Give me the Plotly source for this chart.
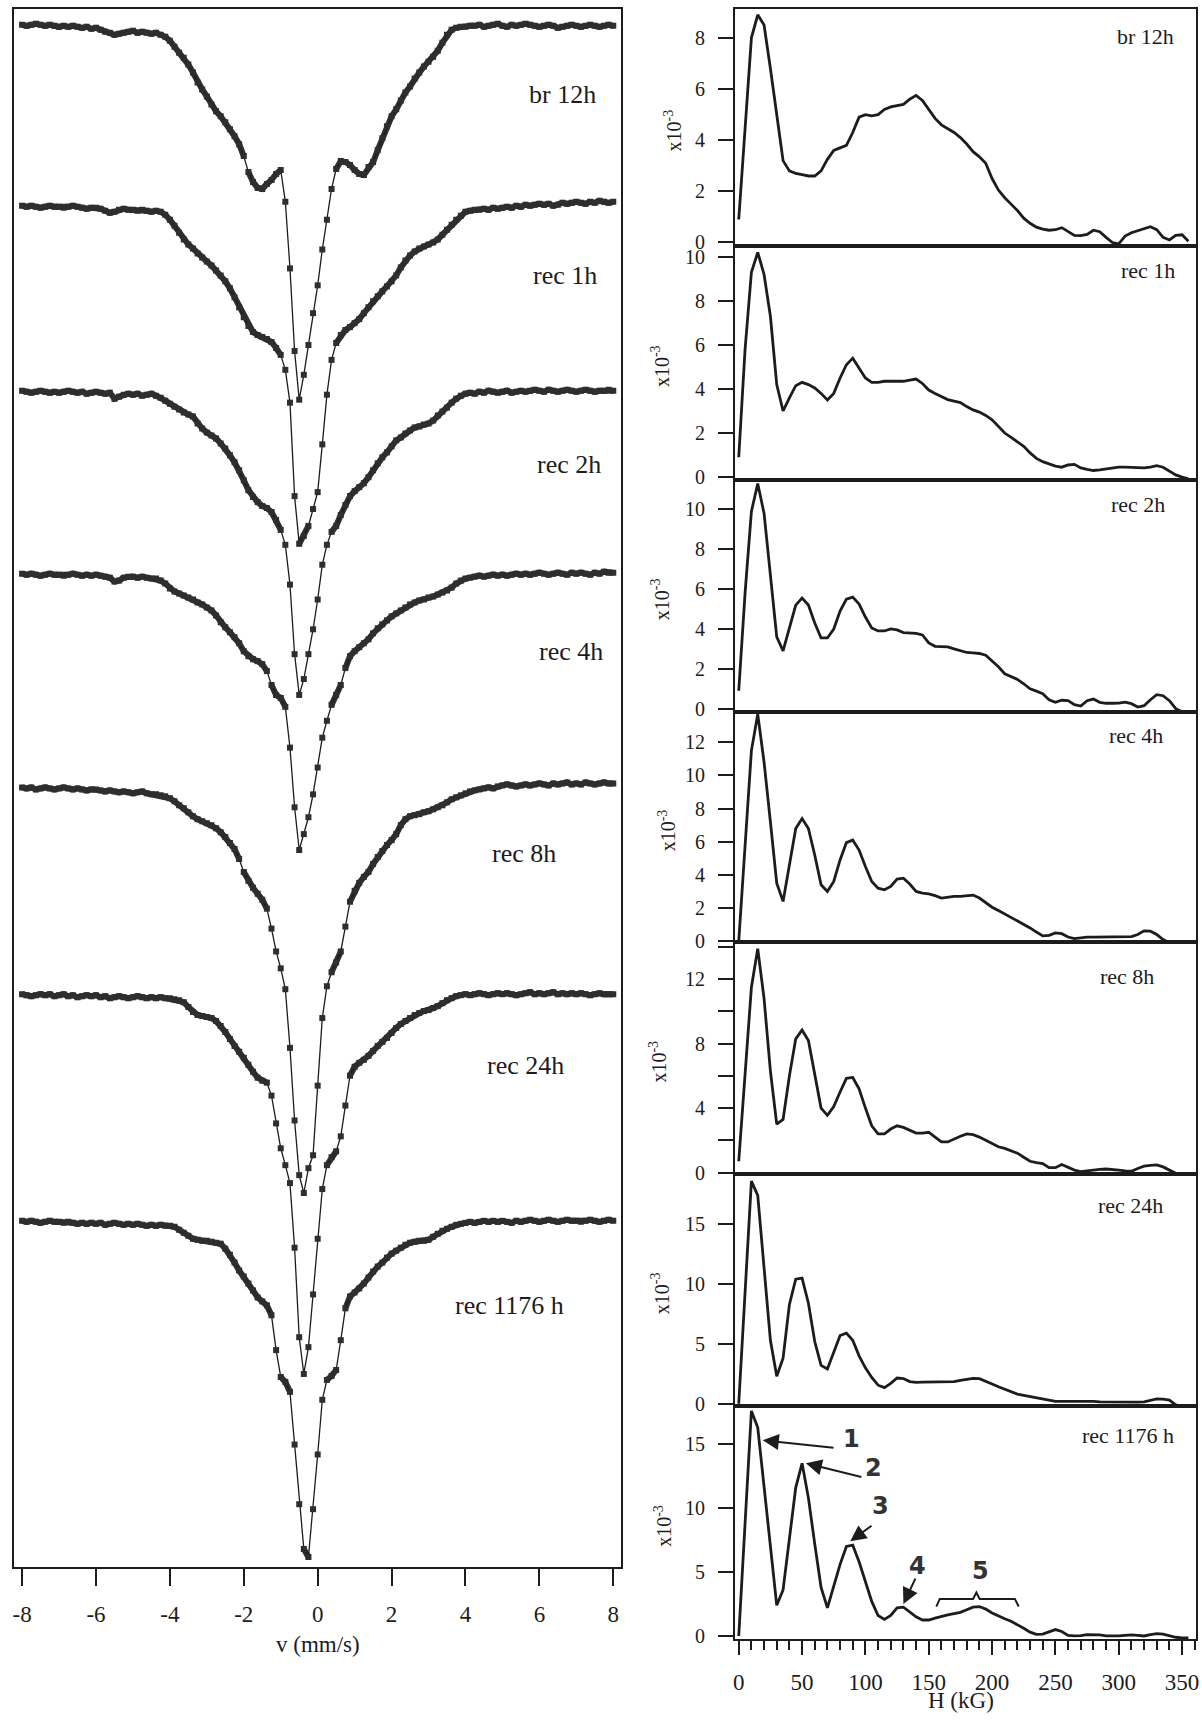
import plotly.graph_objects as go

# ---------------------------------------------------------------
# Left: Mossbauer spectra, velocity channels 0.125 mm/s apart
# absorption values are read off the picture (arbitrary units, 0 = baseline)
# ---------------------------------------------------------------
V = [round(-8 + 0.125 * i, 3) for i in range(129)]

S_BR12 = [
    0, 1, 0, -1, 0, 1, 0, 1,
    2, 1, 2, 1, 2, 3, 2, 4,
    3, 5, 7, 8, 10, 9, 8, 7,
    6, 8, 7, 8, 9, 8, 10, 12,
    16, 22, 28, 33, 40, 48, 58, 65,
    72, 80, 87, 92, 98, 105, 112, 120,
    132, 148, 158, 164, 165, 160, 156, 150,
    146, 178, 245, 328, 377, 352, 322, 290,
    262, 226, 196, 165, 145, 137, 138, 141,
    146, 150, 151, 143, 138, 126, 114, 102,
    92, 85, 76, 68, 62, 54, 48, 42,
    37, 32, 26, 18, 10, 5, 3, 2,
    2, 1, 1, 0, 2, 1, 0, -1,
    1, 2, 0, 1, 0, -1, 0, 1,
    2, 1, 0, 1, 3, 2, 1, 0,
    1, 2, 1, 0, 1, 2, 1, 0,
    1]

S_REC1 = [
    0, 1, 0, 1, 2, 1, 0, 1,
    1, 2, 1, 0, 1, 2, 3, 2,
    2, 3, 5, 7, 6, 4, 3, 4,
    4, 5, 4, 5, 6, 5, 6, 9,
    14, 20, 27, 34, 39, 43, 48, 52,
    56, 60, 65, 70, 76, 83, 92, 102,
    112, 121, 127, 130, 132, 134, 137, 143,
    150, 165, 198, 292, 340, 332, 322, 305,
    288, 240, 190, 155, 138, 130, 125, 122,
    118, 114, 108, 102, 96, 91, 86, 81,
    76, 70, 62, 55, 50, 46, 43, 41,
    39, 37, 34, 29, 24, 19, 14, 10,
    6, 5, 4, 4, 3, 4, 2, 3,
    2, 1, 2, 0, 1, -1, 0, -1,
    -2, -1, -2, 0, -1, -3, -2, -3,
    -4, -3, -2, -4, -3, -5, -4, -3,
    -4]

S_REC2 = [
    0, 1, 2, 1, 0, 1, 2, 1,
    2, 1, 0, 1, 2, 1, 3, 2,
    1, 2, 3, 2, 8, 6, 4, 3,
    4, 3, 5, 4, 3, 5, 7, 10,
    13, 16, 19, 22, 24, 26, 33, 38,
    42, 45, 48, 53, 58, 65, 72, 80,
    90, 100, 107, 112, 116, 118, 122, 130,
    140, 155, 195, 265, 306, 290, 265, 240,
    210, 175, 155, 142, 136, 125, 115, 106,
    101, 97, 93, 87, 80, 73, 67, 62,
    56, 50, 47, 43, 40, 37, 36, 34,
    33, 30, 25, 21, 17, 12, 8, 5,
    3, 2, 3, 1, 2, 0, 1, 2,
    1, 0, 2, 1, 0, 1, 0, -1,
    0, 1, -1, 0, 1, 0, -1, 0,
    1, 0, -1, 0, 1, 0, 0, -1,
    0]

S_REC4 = [
    0, 1, 0, 1, 2, 1, 0, 1,
    1, 2, 1, 0, 1, 2, 1, 2,
    1, 2, 3, 4, 8, 7, 4, 3,
    3, 4, 3, 4, 5, 5, 7, 10,
    15, 18, 20, 22, 24, 26, 29, 31,
    34, 37, 42, 49, 54, 59, 64, 70,
    78, 83, 86, 88, 91, 98, 112, 122,
    125, 134, 175, 235, 278, 262, 245, 222,
    195, 165, 148, 132, 122, 112, 95, 83,
    78, 74, 70, 66, 60, 55, 51, 47,
    43, 40, 37, 34, 31, 29, 27, 26,
    24, 23, 21, 19, 17, 14, 10, 7,
    5, 4, 3, 2, 3, 2, 1, 2,
    1, 2, 1, 0, 1, 0, 1, 0,
    -1, 0, 1, 0, -1, 0, 1, -1,
    0, -1, 0, 1, -1, 0, -2, -1,
    -1]

S_REC8 = [
    0, 1, 0, 2, 1, 0, 1, 2,
    1, 0, 1, 2, 1, 2, 3, 2,
    2, 3, 4, 3, 4, 5, 4, 5,
    6, 5, 4, 6, 7, 7, 8, 9,
    11, 14, 18, 21, 25, 29, 32, 34,
    36, 38, 41, 45, 50, 56, 62, 72,
    85, 94, 101, 107, 113, 122, 142, 165,
    182, 203, 262, 335, 390, 408, 383, 370,
    300, 232, 200, 186, 176, 165, 140, 115,
    104, 96, 90, 85, 77, 70, 64, 58,
    53, 47, 38, 32, 29, 28, 27, 25,
    24, 22, 20, 18, 15, 12, 10, 8,
    6, 4, 3, 2, 1, 0, 1, -1,
    -2, -3, -2, -1, -2, -3, -2, -3,
    -4, -3, -2, -4, -3, -4, -5, -3,
    -4, -3, -5, -4, -3, -4, -5, -4,
    -4]

S_REC24 = [
    0, 1, 2, 1, 0, 1, 0, 2,
    1, 0, 2, 1, 3, 2, 1, 2,
    1, 3, 2, 4, 3, 2, 3, 4,
    3, 2, 3, 4, 3, 4, 3, 4,
    4, 5, 6, 8, 13, 18, 21, 22,
    23, 24, 27, 32, 38, 45, 52, 58,
    64, 71, 78, 84, 87, 89, 102, 130,
    155, 172, 190, 255, 345, 382, 355, 302,
    246, 196, 172, 164, 158, 143, 112, 82,
    73, 69, 66, 62, 57, 52, 48, 44,
    39, 34, 30, 27, 24, 21, 19, 17,
    16, 14, 12, 9, 6, 4, 2, 1,
    0, 1, 0, -1, 0, 1, 0, -1,
    0, -1, 0, 1, 0, -1, -2, 0,
    -1, 0, -1, -2, 0, -1, 0, -1,
    0, -1, 0, 1, 0, -1, 0, 0,
    0]

S_REC1176 = [
    0, 1, 0, 1, 2, 1, 0, 1,
    1, 2, 1, 2, 3, 2, 3, 2,
    3, 2, 4, 3, 2, 3, 4, 3,
    4, 3, 4, 5, 4, 5, 4, 5,
    5, 6, 9, 12, 15, 18, 19, 20,
    20, 21, 22, 23, 28, 34, 42, 50,
    56, 63, 70, 77, 81, 85, 95, 130,
    157, 162, 172, 225, 285, 330, 338, 290,
    235, 180, 160, 156, 150, 120, 88, 76,
    72, 68, 63, 57, 51, 46, 42, 37,
    33, 30, 27, 24, 22, 21, 20, 20,
    19, 16, 13, 10, 8, 6, 4, 3,
    2, 1, 2, 1, 0, 1, 0, 1,
    0, 1, 2, 0, 1, 0, -1, 0,
    1, 0, -1, 0, 1, 0, -1, 0,
    0, 1, 0, -1, 0, 1, 0, -1,
    0]

SPECTRA = [S_BR12, S_REC1, S_REC2, S_REC4, S_REC8, S_REC24, S_REC1176]
LABELS = ["br 12h", "rec 1h", "rec 2h", "rec 4h", "rec 8h", "rec 24h", "rec 1176 h"]

# ---------------------------------------------------------------
# Right: hyperfine field distributions P(H), x10^-3, every 5 kG
# ---------------------------------------------------------------
H = list(range(0, 360, 5))

P_BR12 = [
    0.9, 4.5, 8.0, 8.9, 8.5, 6.8, 5.0, 3.2, 2.8, 2.7,
    2.65, 2.6, 2.6, 2.8, 3.25, 3.6, 3.7, 3.8, 4.3, 4.9,
    5.0, 4.95, 5.0, 5.2, 5.3, 5.35, 5.4, 5.6, 5.75, 5.55,
    5.2, 4.85, 4.6, 4.45, 4.3, 4.1, 3.85, 3.55, 3.35, 3.1,
    2.5, 2.05, 1.75, 1.5, 1.25, 0.95, 0.75, 0.6, 0.52, 0.48,
    0.5, 0.58, 0.42, 0.28, 0.27, 0.32, 0.48, 0.42, 0.2, 0.0,
    -0.05, 0.25, 0.38, 0.47, 0.55, 0.62, 0.5, 0.2, 0.1, 0.28,
    0.3, 0.05]

P_REC1 = [
    0.9, 5.8, 9.3, 10.2, 9.2, 7.3, 4.2, 3.0, 3.6, 4.15,
    4.3, 4.2, 4.05, 3.8, 3.5, 3.8, 4.5, 5.1, 5.4, 4.95,
    4.5, 4.3, 4.3, 4.35, 4.35, 4.35, 4.35, 4.4, 4.45, 4.25,
    3.95, 3.8, 3.65, 3.52, 3.45, 3.38, 3.2, 3.05, 2.95, 2.8,
    2.6, 2.3, 2.0, 1.8, 1.6, 1.4, 1.1, 0.85, 0.7, 0.6,
    0.5, 0.45, 0.55, 0.58, 0.42, 0.35, 0.3, 0.33, 0.38, 0.43,
    0.45, 0.45, 0.43, 0.42, 0.42, 0.45, 0.52, 0.45, 0.28, 0.1,
    0.0, -0.08]

P_REC2 = [
    0.9, 5.8, 9.9, 11.3, 9.8, 6.8, 3.6, 2.9, 4.0, 5.2,
    5.55, 5.2, 4.3, 3.55, 3.55, 4.0, 4.9, 5.5, 5.6, 5.25,
    4.6, 4.05, 3.9, 3.9, 4.0, 3.95, 3.82, 3.8, 3.78, 3.7,
    3.3, 3.13, 3.12, 3.1, 3.0, 2.9, 2.82, 2.8, 2.77, 2.68,
    2.4, 2.1, 1.75, 1.6, 1.47, 1.25, 1.0, 0.88, 0.75, 0.45,
    0.32, 0.42, 0.4, 0.2, 0.13, 0.4, 0.48, 0.32, 0.27, 0.27,
    0.28, 0.33, 0.25, 0.08, 0.15, 0.45, 0.7, 0.65, 0.4, 0.0,
    -0.15, -0.2]

P_REC4 = [
    0.0, 5.5, 11.5, 13.7, 10.8, 7.2, 3.5, 2.4, 4.5, 6.8,
    7.4, 6.8, 5.2, 3.4, 3.0, 3.6, 4.9, 5.95, 6.1, 5.5,
    4.5, 3.6, 3.2, 3.1, 3.3, 3.75, 3.8, 3.45, 3.0, 2.9,
    2.85, 2.75, 2.6, 2.65, 2.7, 2.7, 2.75, 2.78, 2.6, 2.3,
    2.05, 1.85, 1.65, 1.45, 1.25, 1.05, 0.8, 0.55, 0.32, 0.35,
    0.5, 0.45, 0.25, 0.15, 0.2, 0.24, 0.24, 0.24, 0.24, 0.24,
    0.25, 0.26, 0.28, 0.4, 0.62, 0.6, 0.4, 0.1, -0.1, -0.1,
    -0.1, -0.1]

P_REC8 = [
    0.7, 6.0, 11.5, 13.9, 10.8, 6.3, 3.0, 3.3, 6.0, 8.3,
    8.85, 8.2, 6.0, 4.0, 3.55, 4.1, 5.0, 5.85, 5.9, 5.2,
    4.0, 2.9, 2.4, 2.4, 2.7, 2.9, 2.8, 2.6, 2.45, 2.45,
    2.5, 2.2, 1.9, 1.9, 2.1, 2.25, 2.4, 2.35, 2.2, 2.0,
    1.8, 1.6, 1.5, 1.35, 1.2, 0.95, 0.7, 0.62, 0.55, 0.3,
    0.3, 0.5, 0.35, 0.15, 0.06, 0.12, 0.17, 0.2, 0.22, 0.2,
    0.15, 0.1, 0.08, 0.25, 0.4, 0.45, 0.47, 0.35, 0.15, -0.05,
    -0.1, -0.1]

P_REC24 = [
    0.0, 9.5, 18.6, 17.4, 11.5, 5.3, 2.3, 3.8, 8.3, 10.4,
    10.5, 8.4, 5.2, 3.2, 2.9, 4.3, 5.7, 5.9, 5.3, 4.0,
    3.0, 2.2, 1.55, 1.35, 1.7, 2.15, 2.1, 1.85, 1.78, 1.8,
    1.8, 1.8, 1.82, 1.8, 1.85, 1.95, 2.05, 2.12, 2.1, 1.9,
    1.65, 1.42, 1.2, 0.98, 0.8, 0.7, 0.6, 0.5, 0.38, 0.25,
    0.2, 0.2, 0.2, 0.22, 0.24, 0.26, 0.2, 0.15, 0.14, 0.12,
    0.11, 0.11, 0.12, 0.13, 0.15, 0.3, 0.4, 0.38, 0.3, -0.1,
    -0.2, -0.2]

P_REC1176 = [
    0.0, 8.5, 17.6, 16.3, 11.7, 7.2, 2.4, 3.6, 7.6, 11.6,
    13.5, 10.8, 7.2, 3.8, 2.2, 4.0, 5.6, 7.0, 7.1, 5.8,
    4.2, 2.7, 1.6, 1.3, 1.6, 2.2, 2.25, 1.9, 1.5, 1.25,
    1.25, 1.4, 1.55, 1.65, 1.75, 1.85, 2.05, 2.25, 2.3, 2.1,
    1.8, 1.55, 1.35, 1.15, 0.9, 0.6, 0.3, 0.12, 0.15, 0.35,
    0.5, 0.35, 0.05, 0.0, 0.02, 0.1, 0.1, 0.08, 0.0, -0.02,
    0.0, 0.05, 0.08, 0.05, 0.0, 0.1, 0.18, 0.15, 0.0, -0.1,
    -0.15, -0.15]

DISTS = [P_BR12, P_REC1, P_REC2, P_REC4, P_REC8, P_REC24, P_REC1176]

# ---------------------------------------------------------------
# layout (reference pixels -> paper coords)
# ---------------------------------------------------------------
FIG_W, FIG_H = 1202, 1721
INK = "#1c1c1c"
DOTS = "#2e2e2e"
SERIF = "Liberation Serif, Times New Roman, serif"


def fx(p):
    return min(1.0, max(0.0, p / FIG_W))


def fy(p):
    return min(1.0, max(0.0, 1 - p / FIG_H))


OFFSETS = [0, 182, 368, 552, 767, 975, 1203]          # stacking of the spectra
LEFT_LABEL_POS = [(563, 95), (565, 277), (569, 467), (571, 655),
                  (524, 858), (526, 1072), (510, 1313)]

ROW_TOP = [9, 247, 483, 716, 948, 1181, 1414]
ROW_BOT = [247, 483, 716, 948, 1181, 1414, 1649]
Y_RANGES = [(-0.12, 9.13), (-0.14, 10.51), (-0.16, 11.47), (-0.08, 13.84),
            (-0.1, 14.28), (-0.17, 19.18), (-0.27, 18.0)]
Y_TICKS = [[0, 2, 4, 6, 8], [0, 2, 4, 6, 8, 10], [0, 2, 4, 6, 8, 10],
           [0, 2, 4, 6, 8, 10, 12], [0, 2, 4, 6, 8, 10, 12, 14],
           [0, 5, 10, 15], [0, 5, 10, 15]]
RIGHT_LABEL_POS = [(1178, 37), (1179, 272), (1169, 507), (1167, 740),
                   (1158, 982), (1167, 1213), (1178, 1444)]
YTITLE_X = [674, 661, 661, 668, 659, 661, 663]

fig = go.Figure()

for spec, off in zip(SPECTRA, OFFSETS):
    ys = [-(off + d) for d in spec]
    # dense data points merge into a thick band where the spectrum is flat;
    # on the steep flanks they separate, so the band skips those steps
    bx, by = [V[0]], [ys[0]]
    for i in range(1, len(V)):
        if abs(spec[i] - spec[i - 1]) > 12:
            bx.append(None)
            by.append(None)
        bx.append(V[i])
        by.append(ys[i])
    fig.add_trace(go.Scatter(
        x=bx, y=by, mode="lines", line=dict(color=DOTS, width=6),
        connectgaps=False, xaxis="x", yaxis="y", showlegend=False,
        hoverinfo="skip"))
    # data points with the fitted line through them
    fig.add_trace(go.Scatter(
        x=V, y=ys, mode="lines+markers",
        marker=dict(symbol="square", size=6, color=DOTS),
        line=dict(color=INK, width=1.3),
        xaxis="x", yaxis="y", showlegend=False, hoverinfo="skip"))

# distributions
for k, p in enumerate(DISTS):
    n = k + 2
    fig.add_trace(go.Scatter(
        x=H, y=p, mode="lines", line=dict(color=INK, width=2.8),
        xaxis=f"x{n}", yaxis=f"y{n}", showlegend=False, hoverinfo="skip"))

frame = dict(showline=True, linewidth=2, linecolor=INK, mirror=True,
             showgrid=False, zeroline=False)

layout = dict(
    width=FIG_W, height=FIG_H, margin=dict(l=0, r=0, t=0, b=0),
    paper_bgcolor="white", plot_bgcolor="white", showlegend=False,
    hovermode=False, font=dict(family=SERIF, color=INK),
)

layout["xaxis"] = dict(
    frame, domain=[fx(12), fx(622)], range=[-8.22, 8.22], anchor="y",
    tickvals=list(range(-8, 9, 2)), ticktext=[str(t) for t in range(-8, 9, 2)],
    ticks="outside", ticklen=17, tickwidth=2, tickcolor=INK,
    ticklabelstandoff=9, tickfont=dict(family=SERIF, size=23, color=INK))
layout["yaxis"] = dict(
    frame, domain=[fy(1576), fy(9)], range=[-1551, 16], anchor="x",
    showticklabels=False, ticks="")

for k in range(7):
    n = k + 2
    xa = dict(frame, domain=[fx(736), fx(1199)], range=[-3, 361], anchor=f"y{n}")
    if n == 8:
        xa.update(ticks="outside", tickvals=list(range(0, 351, 50)),
                  ticklen=14, tickwidth=2, tickcolor=INK, ticklabelstandoff=7,
                  ticklabeloverflow="allow",
                  tickfont=dict(family=SERIF, size=23, color=INK),
                  minor=dict(ticks="outside", dtick=10, tick0=0, ticklen=9,
                             tickwidth=2, tickcolor=INK))
    else:
        xa.update(showticklabels=False, ticks="")
    layout[f"xaxis{n}"] = xa
    tv = Y_TICKS[k]
    tt = [str(t) if (k != 4 or t % 4 == 0) else "" for t in tv]
    layout[f"yaxis{n}"] = dict(
        frame, domain=[fy(ROW_BOT[k]), fy(ROW_TOP[k])], range=list(Y_RANGES[k]),
        anchor=f"x{n}", tickvals=tv, ticktext=tt, ticks="outside", ticklen=15,
        tickwidth=2, tickcolor=INK, ticklabelstandoff=9,
        tickfont=dict(family=SERIF, size=20, color=INK))


def label(text, x, y, size, xanchor="center", yanchor="middle", angle=0,
          family=SERIF, xref="paper", yref="paper", color=INK, yshift=0):
    return dict(text=text, x=x, y=y, xref=xref, yref=yref, xanchor=xanchor,
                yanchor=yanchor, textangle=angle, showarrow=False,
                borderpad=0, yshift=yshift,
                font=dict(family=family, size=size, color=color))


ann = []
for lab, (x, y) in zip(LABELS, LEFT_LABEL_POS):
    ann.append(label(lab, fx(x), fy(y), 26))
for k, (lab, (x, y)) in enumerate(zip(LABELS, RIGHT_LABEL_POS)):
    ann.append(label(lab, fx(x), fy(y), 22, xanchor="right"))
    ann.append(label("x10<sup>-3</sup>", fx(YTITLE_X[k]),
                     fy((ROW_TOP[k] + ROW_BOT[k]) / 2 + 3), 20, angle=-90))

# axis titles
ann.append(label("v (mm/s)", fx(317), fy(1654), 23))
ann.append(label("H (kG)", fx(963), 0, 23, yanchor="bottom", yshift=-3))

# peak markers in the last panel
ARROWS = [((19, 15.3), (76, 14.7)), ((53, 13.5), (98, 12.4)),
          ((88, 7.4), (106, 8.7)), ((130, 2.5), (140, 4.6))]
for (hx, hy), (tx, ty) in ARROWS:
    ann.append(dict(x=hx, y=hy, ax=tx, ay=ty, xref="x8", yref="y8",
                    axref="x8", ayref="y8", text="", showarrow=True,
                    arrowhead=2, arrowsize=1.6, arrowwidth=2, arrowcolor=INK))
PEAK_TEXT = [("1", 89, 15.4), ("2", 106, 13.1), ("3", 112, 10.2),
             ("4", 141, 5.5), ("5", 191, 5.1)]
for t, x, y in PEAK_TEXT:
    ann.append(label(f"<b>{t}</b>", x, y, 24, family="DejaVu Sans",
                     xref="x8", yref="y8", color="#333333"))

layout["annotations"] = ann
layout["shapes"] = [dict(
    type="path", xref="x8", yref="y8",
    path="M 156,2.3 L 158.7,2.9 L 185,2.9 L 187.6,3.4 L 190.2,2.9 L 218,2.9 L 221,2.3",
    line=dict(color=INK, width=2))]

fig.update_layout(layout)
# drop the browser's default 8px body margin so the figure sits at the page origin
fig.write_html("out.html", config={"displayModeBar": False},
               post_script="document.body.style.margin='0';")
